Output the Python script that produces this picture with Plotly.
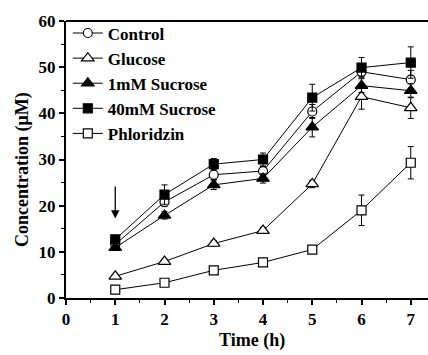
import plotly.graph_objects as go

hours = [1, 2, 3, 4, 5, 6, 7]

control = [11.6, 20.8, 26.7, 27.5, 40.4, 49.0, 47.3]
control_err = [0.8, 1.0, 1.0, 1.0, 1.5, 1.0, 2.0]

glucose = [4.7, 7.9, 11.8, 14.6, 24.7, 43.6, 41.2]
glucose_err = [0.4, 0.5, 0.6, 0.6, 0.8, 2.7, 2.3]

sucrose_1mm = [10.9, 17.9, 24.5, 25.9, 37.0, 46.0, 44.9]
sucrose_1mm_err = [0.6, 0.8, 1.0, 1.0, 2.1, 1.5, 1.5]

sucrose_40mm = [12.7, 22.4, 29.0, 30.0, 43.4, 49.9, 51.0]
sucrose_40mm_err = [0.8, 2.1, 1.2, 1.4, 2.9, 2.2, 3.4]

phloridzin = [1.8, 3.3, 6.0, 7.7, 10.5, 19.0, 29.3]
phloridzin_err = [0.3, 0.4, 0.5, 0.6, 0.7, 3.3, 3.5]

series = [
    ("Control", control, control_err, "circle", "white", 9),
    ("Glucose", glucose, glucose_err, "triangle-up", "white", 11),
    ("1mM Sucrose", sucrose_1mm, sucrose_1mm_err, "triangle-up", "black", 11),
    ("40mM Sucrose", sucrose_40mm, sucrose_40mm_err, "square", "black", 9),
    ("Phloridzin", phloridzin, phloridzin_err, "square", "white", 9),
]

fig = go.Figure()
for name, vals, errs, sym, fill, size in series:
    fig.add_trace(go.Scatter(
        x=hours, y=vals, name=name, mode="lines+markers",
        line=dict(color="black", width=1),
        marker=dict(symbol=sym, size=size, color=fill,
                    line=dict(color="black", width=1.2)),
        error_y=dict(type="data", array=errs, visible=True,
                     color="black", thickness=1, width=3),
    ))

serif = "Liberation Serif"
title_font = dict(family=serif, size=18, color="black", weight="bold")

# arrow marking the start of treatment
fig.add_annotation(
    x=1, y=17.2, ax=1, ay=24.5, xref="x", yref="y", axref="x", ayref="y",
    showarrow=True, arrowhead=2, arrowsize=1.3, arrowwidth=1.3,
    arrowcolor="black", text="",
)

# axis titles
fig.add_annotation(text="Time (h)", xref="paper", yref="paper", x=0.514, y=-0.152,
                   xanchor="center", yanchor="middle", showarrow=False, font=title_font)
fig.add_annotation(text="Concentration (μM)", xref="paper", yref="paper",
                   x=-0.1215, y=0.462, xanchor="center", yanchor="middle",
                   textangle=-90, showarrow=False, font=title_font)

# top frame line
fig.add_shape(type="line", xref="paper", yref="paper", x0=0, x1=1, y0=1, y1=1,
              line=dict(color="black", width=2))

fig.update_layout(
    width=428, height=355,
    margin=dict(l=66, r=0, t=21, b=57),
    paper_bgcolor="white", plot_bgcolor="white",
    font=dict(family=serif, color="black", size=16),
    showlegend=True,
    legend=dict(
        x=0.005, y=1.02, xanchor="left", yanchor="top",
        bgcolor="rgba(0,0,0,0)", borderwidth=0,
        font=dict(family=serif, size=17, color="black", weight="bold"),
        tracegroupgap=0, itemwidth=30,
    ),
    xaxis=dict(
        range=[0, 7.35], tickmode="array", tickvals=[0, 1, 2, 3, 4, 5, 6, 7],
        showgrid=False, zeroline=False, showline=True, linecolor="black",
        linewidth=2, ticks="outside", ticklen=5, tickwidth=1.5, tickcolor="black",
        minor=dict(tickvals=[0.5, 1.5, 2.5, 3.5, 4.5, 5.5, 6.5], ticks="outside",
                   ticklen=3, tickwidth=1, tickcolor="black"),
        tickfont=dict(family=serif, size=17, weight="bold"),
    ),
    yaxis=dict(
        range=[0, 60], tickmode="array", tickvals=[0, 10, 20, 30, 40, 50, 60],
        showgrid=False, zeroline=False, showline=True, linecolor="black",
        linewidth=2, ticks="outside", ticklen=5, tickwidth=1.5, tickcolor="black",
        minor=dict(tickvals=[5, 15, 25, 35, 45, 55], ticks="outside",
                   ticklen=3, tickwidth=1, tickcolor="black"),
        tickfont=dict(family=serif, size=17, weight="bold"),
    ),
)

fig.write_html("out.html")
